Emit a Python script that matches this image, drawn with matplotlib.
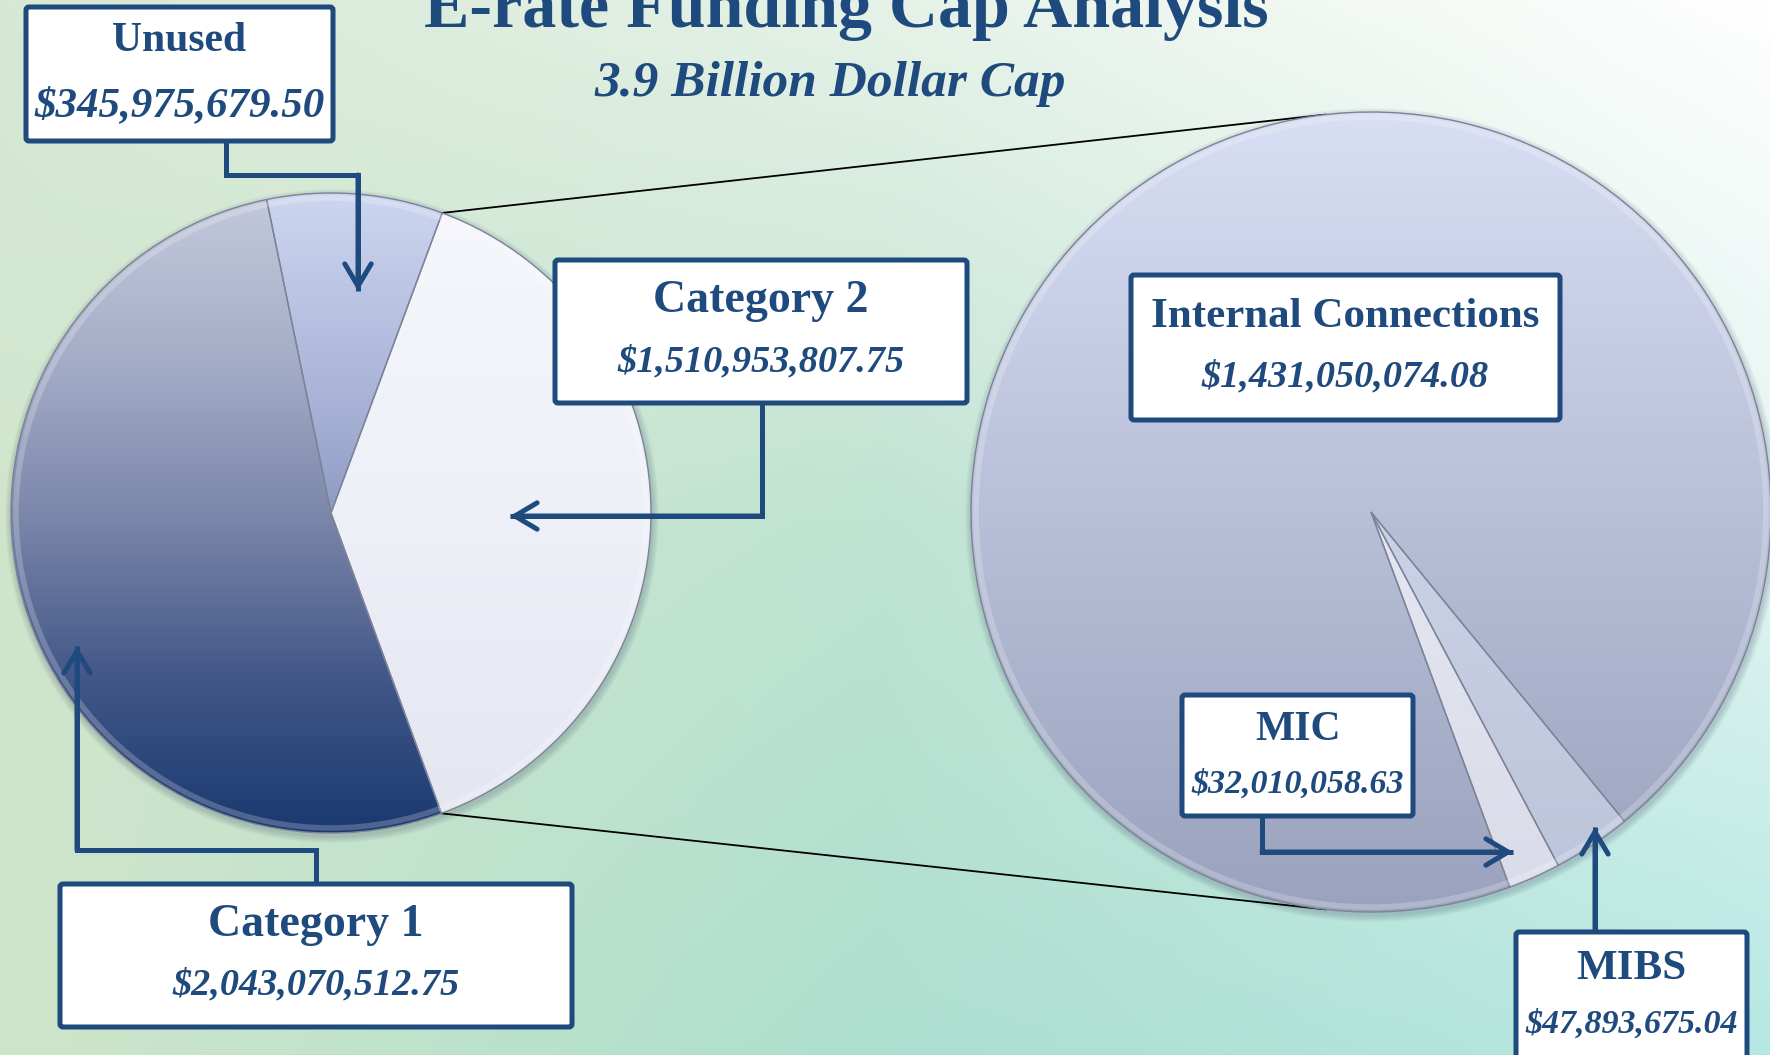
import matplotlib
matplotlib.use('Agg')
import matplotlib.pyplot as plt
import numpy as np
from matplotlib.colors import LinearSegmentedColormap, to_rgb
from matplotlib.patches import FancyBboxPatch, Circle, Wedge

W, H = 1770, 1055

# funding data
cap_labels = ['Unused', 'Category 2', 'Category 1']
cap_values = [345975679.50, 1510953807.75, 2043070512.75]
c2_labels = ['MIC', 'MIBS', 'Internal Connections']
c2_values = [32010058.63, 47893675.04, 1431050074.08]

title = 'E-rate Funding Cap Analysis'
subtitle = '3.9 Billion Dollar Cap'

NAVY = '#1f4a7e'
SERIF = ['Liberation Serif', 'DejaVu Serif']


def Y(y):
    # layout measured from the top of the picture
    return H - y


def money(v):
    return f'${v:,.2f}'


fig = plt.figure(figsize=(W / 100, H / 100), dpi=100)
ax = fig.add_axes([0, 0, 1, 1])
ax.set_axis_off()

# background gradient (3x3 control colours, top row first)
grid = np.array([[to_rgb(c) for c in row] for row in [
    ['#d6e9d4', '#e6f2e8', '#ffffff'],
    ['#d0e6cc', '#bfe3d2', '#e2f4f1'],
    ['#cfe5c9', '#acdfcf', '#b6e8e3'],
]])
pos = [0, 0.5, 1]
tx = np.linspace(0, 1, W)
ty = np.linspace(0, 1, H)
bx = [np.interp(tx, pos, np.eye(3)[k]) for k in range(3)]
by = [np.interp(ty, pos, np.eye(3)[k]) for k in range(3)]
bg = np.zeros((H, W, 3))
for r in range(3):
    for c in range(3):
        bg += (by[r][:, None] * bx[c][None, :])[..., None] * grid[r, c]
ax.imshow(bg, extent=(0, W, 0, H), origin='upper', aspect='auto', zorder=0)

left_c, left_r = (331, Y(513)), 320
right_c, right_r = (1371, Y(512)), 400

# soft shadows
for cen, rad in [(left_c, left_r), (right_c, right_r)]:
    for k in range(1, 8):
        ax.add_patch(Circle((cen[0] + 1, cen[1] - 3), rad + k, color='#3a4560',
                            alpha=0.035, lw=0, zorder=1))

left_w, _ = ax.pie(cap_values, center=left_c, radius=left_r, startangle=101.6,
                   counterclock=False, wedgeprops=dict(linewidth=0, zorder=2))
right_w, _ = ax.pie(c2_values, center=right_c, radius=right_r, startangle=-69.7,
                    counterclock=True, wedgeprops=dict(linewidth=0, zorder=2))

grads = {
    'Unused': ['#cdd6ef', '#a7b2d6', '#7584ad', '#4d5f91'],
    'Category 2': ['#f6f7fc', '#eef0f8', '#e3e6f0'],
    'Category 1': ['#c4c9dc', '#a6aec8', '#7c88ab', '#445889', '#1a3970'],
    'MIC': ['#f2f4f9', '#e4e7f0', '#d9dce8'],
    'MIBS': ['#dde2f2', '#ccd2e6', '#bcc3da'],
    'Internal Connections': ['#d8def3', '#c3c9e1', '#aeb5cf', '#9aa2bd'],
}


def fill_gradient(wedge, cen, rad, colors):
    cmap = LinearSegmentedColormap.from_list('g', colors)
    arr = cmap(np.linspace(0, 1, 256))[:, None, :]
    im = ax.imshow(arr, extent=(cen[0] - rad, cen[0] + rad, cen[1] - rad, cen[1] + rad),
                   origin='upper', aspect='auto', interpolation='bilinear', zorder=2.1)
    im.set_clip_path(wedge)
    ax.add_patch(Wedge(cen, rad, wedge.theta1, wedge.theta2, fill=False,
                       ec='#7d8398', lw=1.0, zorder=2.3))


for w, lab in zip(left_w, cap_labels):
    fill_gradient(w, left_c, left_r, grads[lab])
for w, lab in zip(right_w, c2_labels):
    fill_gradient(w, right_c, right_r, grads[lab])

# bevel highlight near the rim
for cen, rad in [(left_c, left_r), (right_c, right_r)]:
    ring = Circle(cen, rad - 5, fill=False, ec='white', lw=4, alpha=0.22, zorder=2.4)
    ax.add_patch(ring)
    ring.set_clip_path(Circle(cen, rad, transform=ax.transData))

# connector lines from Category 2 to the breakdown pie
w2 = left_w[cap_labels.index('Category 2')]
for a_l, a_r in [(w2.theta2, 96.5), (w2.theta1, -96.5)]:
    p = (left_c[0] + left_r * np.cos(np.radians(a_l)), left_c[1] + left_r * np.sin(np.radians(a_l)))
    q = (right_c[0] + right_r * np.cos(np.radians(a_r)), right_c[1] + right_r * np.sin(np.radians(a_r)))
    ax.plot([p[0], q[0]], [p[1], q[1]], color='black', lw=1.3, zorder=1.5)

# callout boxes: box (x0, y0, x1, y1), text centres, font sizes, arrow path
callouts = {
    'Unused': dict(box=(26, 7, 333, 141), ty=(37, 102), fs=(30, 31),
                   path=[(226, 141), (226, 175), (358, 175), (358, 291)]),
    'Category 2': dict(box=(555, 260, 967, 403), ty=(297, 359), fs=(33, 27.5),
                       path=[(762, 403), (762, 516), (510, 516)]),
    'Category 1': dict(box=(60, 884, 572, 1027), ty=(921, 982), fs=(33, 27.5),
                       path=[(316, 884), (316, 850), (77, 850), (77, 646)]),
    'Internal Connections': dict(box=(1131, 275, 1560, 420), ty=(313, 374), fs=(31, 27.5),
                                 path=None),
    'MIC': dict(box=(1182, 695, 1413, 816), ty=(726, 782), fs=(30, 24.5),
                path=[(1262, 816), (1262, 852), (1513, 852)]),
    'MIBS': dict(box=(1516, 932, 1747, 1080), ty=(965, 1022), fs=(31, 24.5),
                 path=[(1595, 932), (1595, 827)]),
}
values = dict(zip(cap_labels + c2_labels, cap_values + c2_values))

for lab, cfg in callouts.items():
    x0, y0, x1, y1 = cfg['box']
    ax.add_patch(FancyBboxPatch((x0, Y(y1)), x1 - x0, y1 - y0,
                                boxstyle='round,pad=0,rounding_size=3',
                                fc='white', ec=NAVY, lw=3.6, zorder=5))
    xc = (x0 + x1) / 2
    f1, f2 = cfg['fs']
    ax.text(xc, Y(cfg['ty'][0] + 0.33 * f1 * 100 / 72), lab, ha='center', va='baseline',
            fontsize=f1, fontweight='bold', family=SERIF, color=NAVY, zorder=6)
    ax.text(xc, Y(cfg['ty'][1] + 0.33 * f2 * 100 / 72), money(values[lab]), ha='center',
            va='baseline', fontsize=f2, fontweight='bold', fontstyle='italic',
            family=SERIF, color=NAVY, zorder=6)
    if cfg['path']:
        xs = [p[0] for p in cfg['path']]
        ys = [Y(p[1]) for p in cfg['path']]
        ax.plot(xs, ys, color=NAVY, lw=3.6, solid_joinstyle='miter',
                solid_capstyle='butt', zorder=4)
        ax.annotate('', xy=(xs[-1], ys[-1]), xytext=(xs[-2], ys[-2]),
                    arrowprops=dict(arrowstyle='->,head_length=1.6,head_width=0.95',
                                    color=NAVY, lw=3.6, shrinkA=0, shrinkB=0,
                                    joinstyle='miter'),
                    zorder=4)

ax.text(846, Y(27), title, ha='center', va='baseline', fontsize=49,
        fontweight='bold', family=SERIF, color=NAVY, zorder=6)
ax.text(830, Y(96), subtitle, ha='center', va='baseline', fontsize=37,
        fontweight='bold', fontstyle='italic', family=SERIF, color=NAVY, zorder=6)

ax.set_xlim(0, W)
ax.set_ylim(0, H)
ax.set_aspect('auto')
fig.savefig('out.png', dpi=100)
